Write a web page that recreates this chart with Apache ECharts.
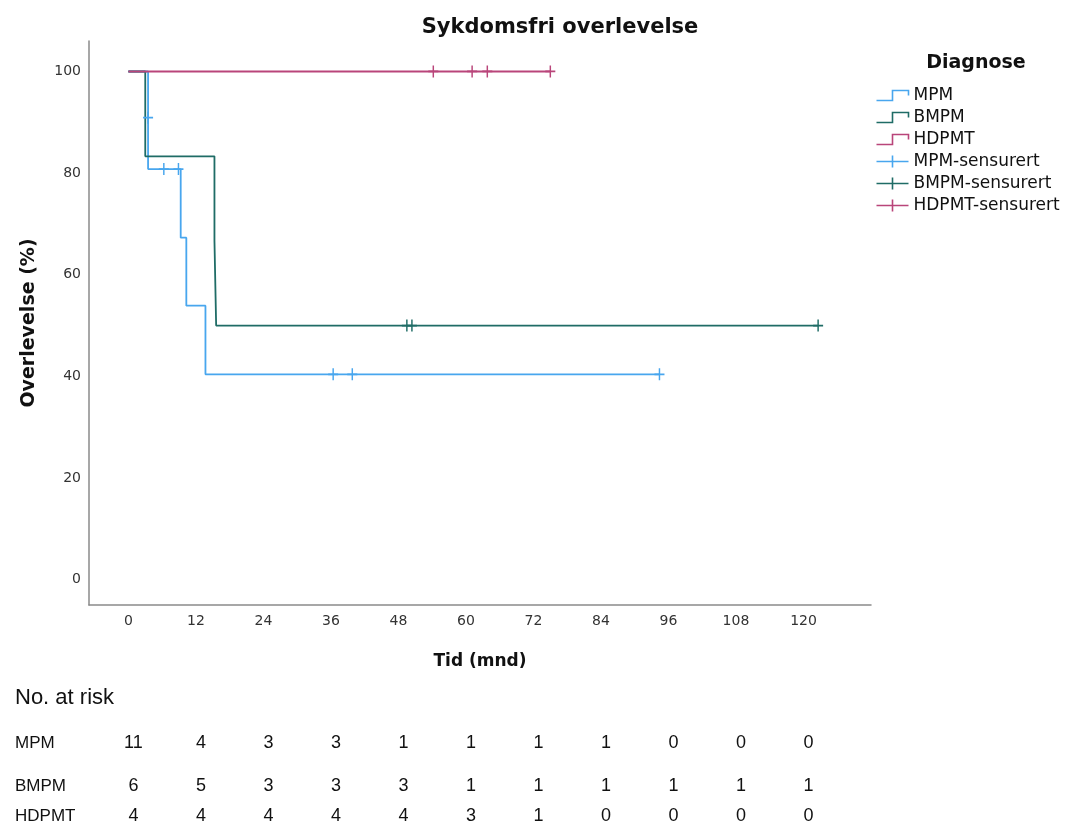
<!DOCTYPE html>
<html>
<head>
<meta charset="utf-8">
<script src="https://cdn.jsdelivr.net/npm/echarts@6/dist/echarts.min.js"></script>
<style>
  html, body { margin: 0; padding: 0; background: #fff; }
  #km { width: 1071px; height: 825px; }
</style>
</head>
<body>
<div id="km"></div>
<script>
// Kaplan-Meier steps (time in months, survival in %)
var mpmTime = [0, 3.5, 3.5, 9.3, 10.3, 13.7, 94.4];
var mpmSurv = [100, 90.9, 80.8, 67.3, 53.9, 40.4, 40.4];
var bmpmTime = [0, 3.0, 15.3, 15.6, 122.6];
var bmpmSurv = [100, 83.3, 66.7, 50.0, 50.0];
var hdpmtTime = [0, 75.0];
var hdpmtSurv = [100, 100];

// censored observations
var mpmCensTime = [3.5, 6.3, 8.9, 36.4, 39.8, 94.4];
var mpmCensSurv = [90.9, 80.8, 80.8, 40.4, 40.4, 40.4];
var bmpmCensTime = [49.5, 50.4, 122.6];
var bmpmCensSurv = [50, 50, 50];
var hdpmtCensTime = [54.2, 61.1, 63.8, 75.0];
var hdpmtCensSurv = [100, 100, 100, 100];

// number at risk table
var riskTimes = [0, 12, 24, 36, 48, 60, 72, 84, 96, 108, 120];
var riskGroups = ['MPM', 'BMPM', 'HDPMT'];
var riskMPM = [11, 4, 3, 3, 1, 1, 1, 1, 0, 0, 0];
var riskBMPM = [6, 5, 3, 3, 3, 1, 1, 1, 1, 1, 1];
var riskHDPMT = [4, 4, 4, 4, 4, 3, 1, 0, 0, 0, 0];

var colMPM = '#48a6ee';
var colBMPM = '#1f6c66';
var colHDPMT = '#b9457a';

function pairs(xs, ys) {
	var out = [];
	for (var i = 0; i < xs.length; i++) out.push([xs[i], ys[i]]);
	return out;
}

var stepIcon = 'path://M0,10 L16,10 L16,0 L32,0 L32,5';
var censIcon = 'path://M0,6 L32,6 M16,0 L16,12';
var plusSym = 'path://M5,0 L5,12 M0,6 L10,6';

function stepSeries(name, xs, ys, color) {
	return {
		name: name,
		type: 'line',
		step: 'end',
		symbol: 'none',
		data: pairs(xs, ys),
		lineStyle: { color: color, width: 1.8 },
		itemStyle: { color: color }
	};
}

function censSeries(name, xs, ys, color) {
	return {
		name: name,
		type: 'scatter',
		symbol: plusSym,
		symbolSize: [10, 12],
		data: pairs(xs, ys),
		itemStyle: { color: 'none', borderColor: color, borderWidth: 1.6, opacity: 1 },
		z: 5
	};
}

function legendItem(name, icon, color) {
	return {
		name: name,
		icon: icon,
		itemStyle: { color: 'none', borderColor: color, borderWidth: 1.6 }
	};
}

var chartDom = document.getElementById('km');
var myChart = echarts.init(chartDom);

myChart.setOption({
	animation: false,
	backgroundColor: '#fff',
	title: [{
		text: 'Sykdomsfri overlevelse',
		left: 555,
		top: 12,
		textAlign: 'center',
		textStyle: { fontFamily: 'DejaVu Sans', fontSize: 21, fontWeight: 'bold', color: '#111' }
	}, {
		text: 'Diagnose',
		left: 971,
		top: 49,
		textAlign: 'center',
		textStyle: { fontFamily: 'DejaVu Sans', fontSize: 19, fontWeight: 'bold', color: '#111' }
	}],
	legend: {
		orient: 'vertical',
		left: 869,
		top: 82,
		itemWidth: 32,
		itemHeight: 12,
		itemGap: 5,
		selectedMode: false,
		textStyle: { fontFamily: 'DejaVu Sans', fontSize: 17, color: '#111' },
		data: [
			legendItem('MPM', stepIcon, colMPM),
			legendItem('BMPM', stepIcon, colBMPM),
			legendItem('HDPMT', stepIcon, colHDPMT),
			legendItem('MPM-sensurert', censIcon, colMPM),
			legendItem('BMPM-sensurert', censIcon, colBMPM),
			legendItem('HDPMT-sensurert', censIcon, colHDPMT)
		]
	},
	grid: {
		left: 89,
		top: 41,
		width: 782,
		height: 564,
		containLabel: false
	},
	xAxis: {
		type: 'value',
		min: -7,
		max: 132,
		interval: 1,
		name: 'Tid (mnd)',
		nameLocation: 'middle',
		nameGap: 48,
		nameTextStyle: { fontFamily: 'DejaVu Sans', fontSize: 17, fontWeight: 'bold', color: '#111' },
		axisLine: { show: true, onZero: false, lineStyle: { color: '#8a8a8a', width: 1.5 } },
		axisTick: { show: false },
		splitLine: { show: false },
		axisLabel: {
			margin: 9,
			fontFamily: 'DejaVu Sans',
			fontSize: 14,
			color: '#333',
			showMinLabel: false,
			showMaxLabel: false,
			formatter: function (v) { return (v >= 0 && v % 12 === 0) ? String(v) : ''; }
		}
	},
	yAxis: {
		type: 'value',
		min: -5,
		max: 106,
		interval: 1,
		name: 'Overlevelse (%)',
		nameLocation: 'middle',
		nameGap: 50,
		nameTextStyle: { fontFamily: 'DejaVu Sans', fontSize: 19, fontWeight: 'bold', color: '#111' },
		axisLine: { show: true, onZero: false, lineStyle: { color: '#8a8a8a', width: 1.5 } },
		axisTick: { show: false },
		splitLine: { show: false },
		axisLabel: {
			margin: 8,
			fontFamily: 'DejaVu Sans',
			fontSize: 14,
			color: '#333',
			showMinLabel: false,
			showMaxLabel: false,
			formatter: function (v) { return (v >= 0 && v % 20 === 0) ? String(v) : ''; }
		}
	},
	series: [
		stepSeries('MPM', mpmTime, mpmSurv, colMPM),
		stepSeries('BMPM', bmpmTime, bmpmSurv, colBMPM),
		stepSeries('HDPMT', hdpmtTime, hdpmtSurv, colHDPMT),
		censSeries('MPM-sensurert', mpmCensTime, mpmCensSurv, colMPM),
		censSeries('BMPM-sensurert', bmpmCensTime, bmpmCensSurv, colBMPM),
		censSeries('HDPMT-sensurert', hdpmtCensTime, hdpmtCensSurv, colHDPMT)
	]
});

// number-at-risk table, columns placed through the x axis scale
var riskRows = [riskMPM, riskBMPM, riskHDPMT];
var rowY = [743, 786, 816];
var tableFont = 'Liberation Sans';
var elements = [{
	type: 'text',
	x: 15,
	y: 698,
	style: { text: 'No. at risk', font: '22px "' + tableFont + '"', fill: '#111', verticalAlign: 'middle' }
}];
for (var r = 0; r < riskGroups.length; r++) {
	elements.push({
		type: 'text',
		x: 15,
		y: rowY[r],
		style: { text: riskGroups[r], font: '17px "' + tableFont + '"', fill: '#111', verticalAlign: 'middle' }
	});
	for (var c = 0; c < riskTimes.length; c++) {
		var px = myChart.convertToPixel({ xAxisIndex: 0 }, riskTimes[c]) + 5;
		elements.push({
			type: 'text',
			x: px,
			y: rowY[r],
			style: { text: String(riskRows[r][c]), font: '18px "' + tableFont + '"', fill: '#111', align: 'center', verticalAlign: 'middle' }
		});
	}
}
myChart.setOption({ graphic: elements });
</script>
</body>
</html>
